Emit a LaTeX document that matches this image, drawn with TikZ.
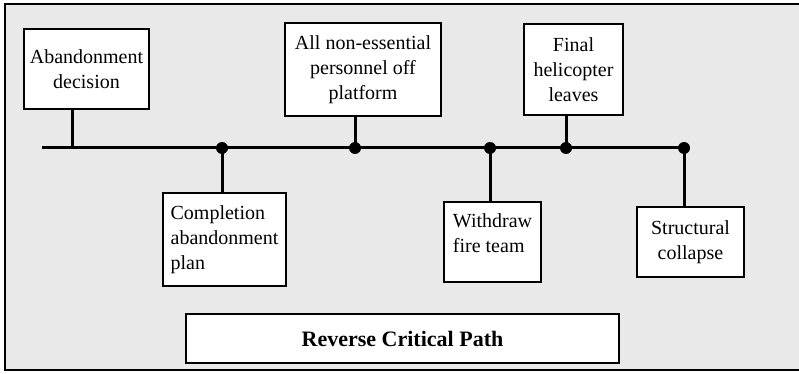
\documentclass[tikz,border=0pt]{standalone}
\usepackage{fontspec}
\setmainfont{Liberation Serif}
\definecolor{paper}{HTML}{E9E9E9}
\tikzset{
  evbox/.style={draw, fill=white, line width=1.5pt, inner sep=0pt,
                font=\fontsize{20}{25}\selectfont, align=center},
  evleft/.style={evbox, align=left},
  titlebox/.style={evbox, font=\fontsize{22}{25}\selectfont\bfseries},
  pathline/.style={line width=3pt},
  evdot/.style={circle, fill=black, inner sep=0pt, minimum size=12pt},
}
\begin{document}
\begin{tikzpicture}[x=1pt, y=-1pt]
    \useasboundingbox (0,0) rectangle (799,374);
    \fill[paper] (5,4) rectangle (799,370);
    \draw[line width=1.5pt] (799,4) -- (5,4) -- (5,370) -- (799,370);
    % events above the path
    \node[evbox, minimum width=125pt, minimum height=80pt] (decision) at (86.5,69) {Abandonment\\decision};
    \node[evbox, minimum width=156pt, minimum height=93pt] (offplat) at (363,69.5) {All non-essential\\personnel off\\platform};
    \node[evbox, minimum width=99pt, minimum height=91pt] (heli) at (573.5,69.5) {Final\\helicopter\\leaves};
    % events below the path
    \node[evleft, minimum width=123pt, minimum height=93pt] (complplan) at (224.5,239.5) {Completion\\abandonment\\plan};
    \node[evleft, minimum width=97pt, minimum height=80pt, text depth=18pt] (withdraw) at (492.5,242) {Withdraw\\fire team};
    \node[evbox, minimum width=107pt, minimum height=70pt] (collapse) at (690.5,242) {Structural\\collapse};
    \node[titlebox, minimum width=433pt, minimum height=49pt] (revpath) at (402.5,338.5) {Reverse Critical Path};
    % the path
    \coordinate (t0) at (42,148);
    \coordinate (t1) at (72,148);
    \coordinate (t2) at (222,148);
    \coordinate (t3) at (355,148);
    \coordinate (t4) at (490,148);
    \coordinate (t5) at (566,148);
    \coordinate (t6) at (684,148);
    \draw[pathline] (t0) -- (t6);
    \draw[pathline] (decision.south -| t1) -- (t1);
    \draw[pathline] (t2) -- (complplan.north -| t2);
    \draw[pathline] (offplat.south -| t3) -- (t3);
    \draw[pathline] (t4) -- (withdraw.north -| t4);
    \draw[pathline] (heli.south -| t5) -- (t5);
    \draw[pathline] (t6) -- (collapse.north -| t6);
    \foreach \t in {t2,t3,t4,t5,t6}
      \node[evdot] at (\t) {};
\end{tikzpicture}
\end{document}
